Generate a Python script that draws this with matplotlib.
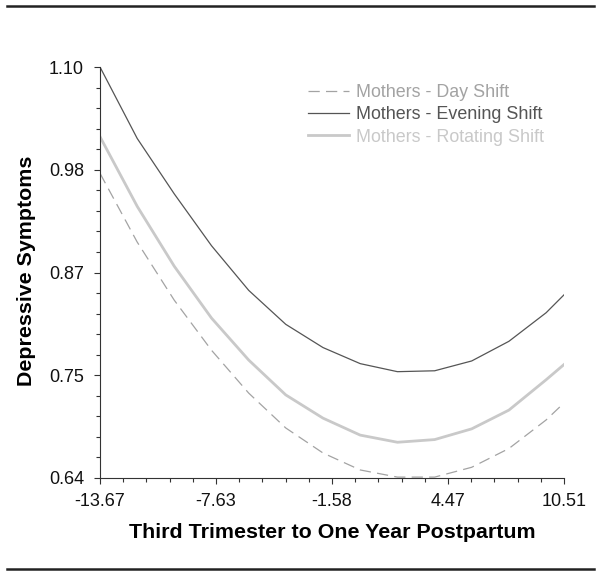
import matplotlib
matplotlib.use('Agg')
import matplotlib.pyplot as plt
from matplotlib.lines import Line2D

plt.rcParams['font.family'] = ['Liberation Sans', 'DejaVu Sans']

# months relative to birth (x) and fitted depressive symptoms (y)
months = [-13.67, -11.73, -9.80, -7.86, -5.92, -3.99, -2.05, -0.11,
          1.83, 3.77, 5.70, 7.64, 9.58, 10.51]
day_shift = [0.981, 0.904, 0.839, 0.783, 0.735, 0.696, 0.668, 0.649,
             0.641, 0.641, 0.652, 0.673, 0.705, 0.724]
evening_shift = [1.100, 1.020, 0.958, 0.900, 0.850, 0.812, 0.786, 0.768,
                 0.759, 0.760, 0.771, 0.793, 0.825, 0.845]
rotating_shift = [1.022, 0.944, 0.877, 0.819, 0.772, 0.733, 0.707, 0.688,
                  0.680, 0.683, 0.695, 0.716, 0.750, 0.767]

series_names = ['Mothers - Day Shift', 'Mothers - Evening Shift',
                'Mothers - Rotating Shift']

x_ticks = [-13.67, -7.625, -1.58, 4.465, 10.51]
x_labels = ['-13.67', '-7.63', '-1.58', '4.47', '10.51']
y_ticks = [0.64, 0.755, 0.87, 0.985, 1.10]
y_labels = ['0.64', '0.75', '0.87', '0.98', '1.10']


def main():
    fig = plt.figure(figsize=(6.01, 5.78), dpi=100)
    ax = fig.add_axes([100 / 601, 100 / 578, 464 / 601, 411 / 578])

    ax.plot(months, day_shift, color='#a3a3a3', lw=0.9,
            linestyle=(0, (9, 5)), label=series_names[0])
    ax.plot(months, evening_shift, color='#555555', lw=0.9,
            label=series_names[1])
    ax.plot(months, rotating_shift, color='#c9c9c9', lw=2.0,
            label=series_names[2])

    ax.set_xlim(-13.67, 10.51)
    ax.set_ylim(0.64, 1.10)

    ax.set_xticks(x_ticks)
    ax.set_xticklabels(x_labels)
    ax.set_yticks(y_ticks)
    ax.set_yticklabels(y_labels)
    step_x = (x_ticks[1] - x_ticks[0]) / 5
    ax.set_xticks([x_ticks[0] + step_x * i for i in range(21)], minor=True)
    step_y = (y_ticks[1] - y_ticks[0]) / 5
    ax.set_yticks([y_ticks[0] + step_y * i for i in range(21)], minor=True)

    ax.tick_params(which='major', length=4.5, width=0.8, color='#333333',
                   labelsize=13, labelcolor='#111111')
    ax.tick_params(which='minor', length=3, width=0.8, color='#333333')
    ax.tick_params(axis='y', which='major', pad=7)
    ax.tick_params(axis='x', which='major', pad=6.5)

    for side in ['top', 'right']:
        ax.spines[side].set_visible(False)
    for side in ['left', 'bottom']:
        ax.spines[side].set_color('#333333')
        ax.spines[side].set_linewidth(0.8)

    ax.legend(loc='upper left', bbox_to_anchor=(308 / 601, 1 - 84 / 578),
              bbox_transform=fig.transFigure, frameon=False,
              fontsize=12.9, labelcolor='linecolor', handlelength=2.3,
              handletextpad=0.4, borderpad=0, borderaxespad=0,
              labelspacing=0.3)

    fig.text(332 / 601, 1 - 532 / 578,
             'Third Trimester to One Year Postpartum',
             ha='center', va='center', fontsize=15.4, fontweight='bold')
    fig.text(27 / 601, 1 - 271 / 578, 'Depressive Symptoms', rotation=90,
             ha='center', va='center', fontsize=15.4, fontweight='bold')

    # rules above and below the figure
    for y in [6, 569]:
        fig.add_artist(Line2D([7 / 601, 594 / 601], [1 - y / 578] * 2,
                              color='#222222', lw=1.8))

    plt.savefig('out.png', dpi=100)


if __name__ == '__main__':
    main()
